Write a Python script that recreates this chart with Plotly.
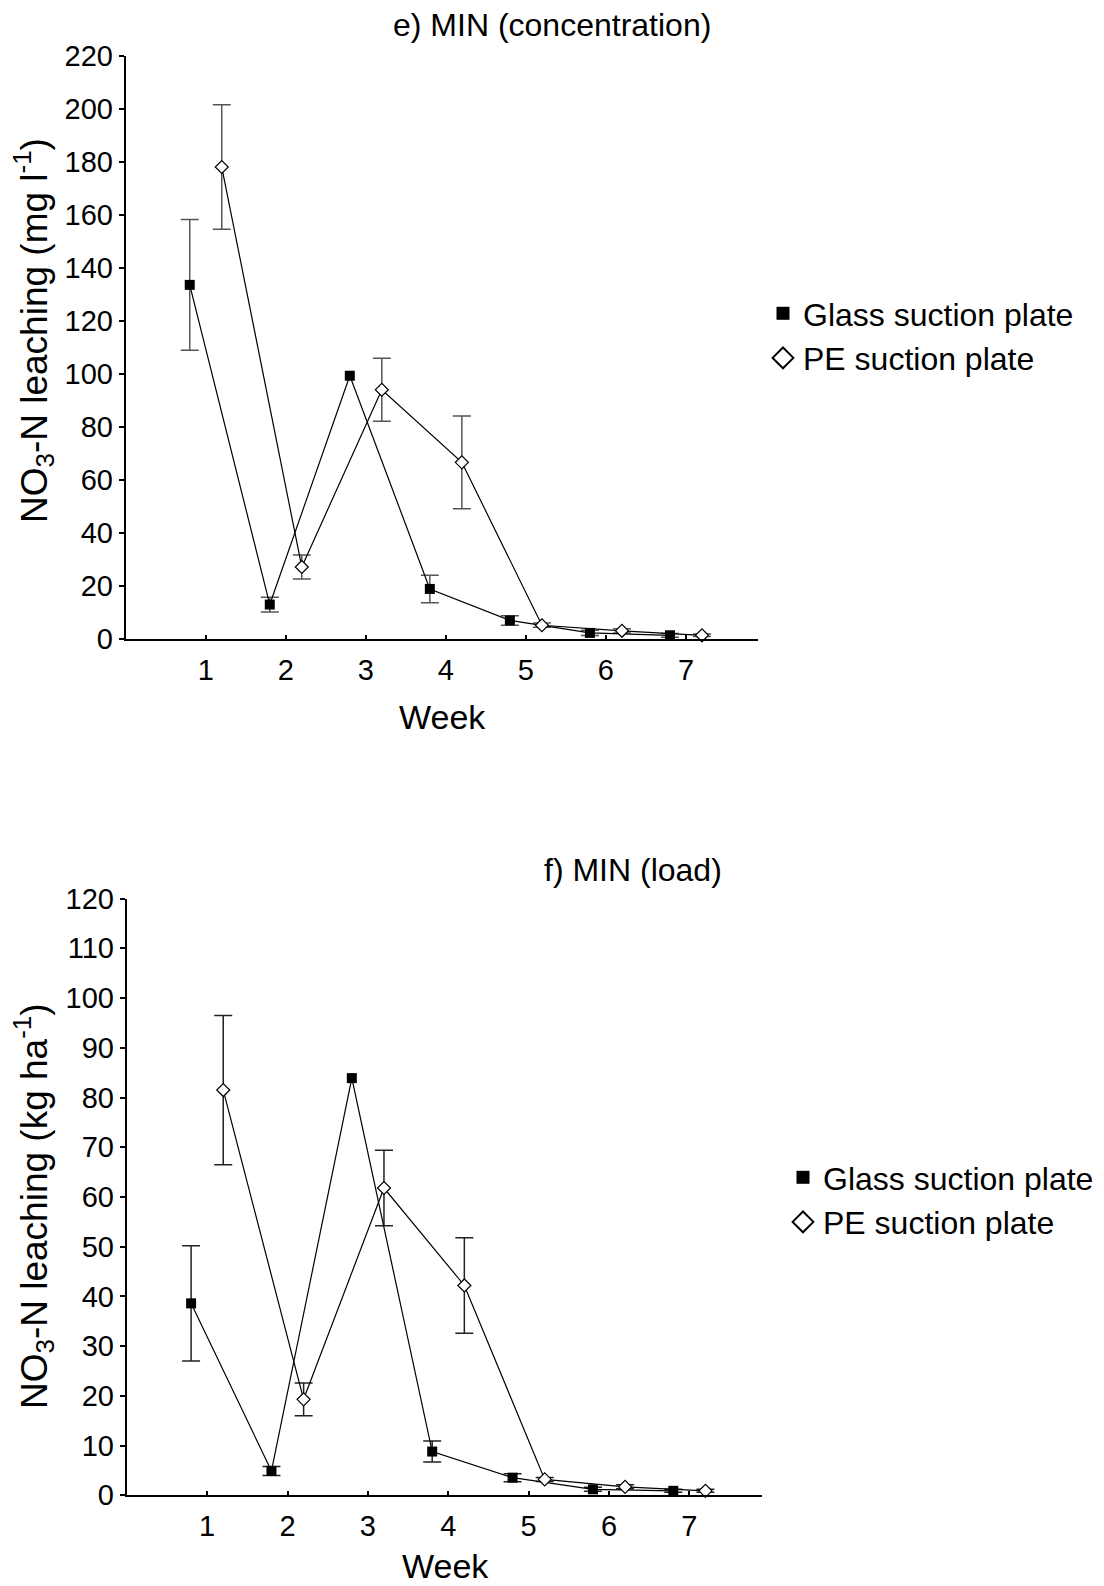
import plotly.graph_objects as go

# ---- data ----
weeks = [1, 2, 3, 4, 5, 6, 7]
week_ticks = ["1", "2", "3", "4", "5", "6", "7"]

glass_conc = [133.7, 13.0, 99.4, 18.9, 7.0, 2.3, 1.4]
glass_conc_err = [24.7, 2.8, None, 5.2, 1.8, 1.0, 0.7]
pe_conc = [178.2, 27.2, 94.1, 66.7, 5.2, 3.1, 1.4]
pe_conc_err = [23.5, 4.5, 11.9, 17.5, 0.8, 0.8, 0.5]

glass_load = [38.6, 4.9, 83.9, 8.8, 3.55, 1.2, 0.9]
glass_load_err = [11.6, 0.9, None, 2.1, 0.8, 0.4, 0.3]
pe_load = [81.5, 19.3, 61.8, 42.2, 3.2, 1.7, 0.9]
pe_load_err = [15.0, 3.3, 7.6, 9.6, 0.4, 0.4, 0.3]

series_names = ["Glass suction plate", "PE suction plate"]

# ---- figure ----
W, H = 1104, 1586
FONT = "Liberation Sans, Arial, Helvetica, sans-serif"
shift = 0.2
xg = [w - shift for w in weeks]
xp = [w + shift for w in weeks]


def px_x(p):
    return p / W


def px_y(p):
    return 1 - p / H


fig = go.Figure()


def add_err(xs, ys, es, xa, ya, errcol):
    keep = [i for i, e in enumerate(es) if e is not None]
    fig.add_trace(go.Scatter(
        x=[xs[i] for i in keep], y=[ys[i] for i in keep], xaxis=xa, yaxis=ya,
        mode="markers", marker=dict(size=1, opacity=0),
        error_y=dict(type="data", array=[es[i] for i in keep], visible=True,
                     color=errcol, thickness=1.5, width=9),
        cliponaxis=False, showlegend=False, hoverinfo="skip"))


def add_pair(gy, ge, py, pe, xa, ya, errcol, leg):
    add_err(xg, gy, ge, xa, ya, errcol)
    add_err(xp, py, pe, xa, ya, errcol)
    fig.add_trace(go.Scatter(
        x=xg, y=gy, xaxis=xa, yaxis=ya, mode="lines+markers",
        line=dict(color="black", width=1.2),
        marker=dict(symbol="square", size=10, color="black"),
        cliponaxis=False, showlegend=False, name=series_names[0]))
    fig.add_trace(go.Scatter(
        x=xp, y=py, xaxis=xa, yaxis=ya, mode="lines+markers",
        line=dict(color="black", width=1.2),
        marker=dict(symbol="diamond", size=10, color="white",
                    line=dict(color="black", width=1.2)),
        cliponaxis=False, showlegend=False, name=series_names[1]))
    # legend entries (markers only)
    fig.add_trace(go.Scatter(
        x=[None], y=[None], xaxis=xa, yaxis=ya, mode="markers",
        marker=dict(symbol="square", size=13, color="black"),
        name=series_names[0], legend=leg))
    fig.add_trace(go.Scatter(
        x=[None], y=[None], xaxis=xa, yaxis=ya, mode="markers",
        marker=dict(symbol="diamond-open", size=16, color="black",
                    line=dict(width=2)),
        name=series_names[1], legend=leg))


add_pair(glass_conc, glass_conc_err, pe_conc, pe_conc_err, "x", "y", "#555555", "legend")
add_pair(glass_load, glass_load_err, pe_load, pe_load_err, "x2", "y2", "#222222", "legend2")

xcommon = dict(range=[0, 7.9], tickmode="array", tickvals=weeks, ticktext=week_ticks,
               ticks="inside", ticklen=4, tickwidth=1.5, tickcolor="black",
               showline=True, linewidth=2, linecolor="black", showgrid=False,
               zeroline=False, tickfont=dict(size=29, color="black", family=FONT),
               ticklabelstandoff=4, automargin=False, fixedrange=True)
ycommon = dict(ticks="outside", ticklen=5, tickwidth=1.5, tickcolor="black",
               showline=True, linewidth=2, linecolor="black", showgrid=False,
               zeroline=False, tickfont=dict(size=29, color="black", family=FONT),
               automargin=False, fixedrange=True)

LEGFONT = dict(size=32, family=FONT, color="black")

fig.update_layout(
    width=W, height=H,
    margin=dict(l=0, r=0, t=0, b=0),
    paper_bgcolor="white", plot_bgcolor="white",
    font=dict(family=FONT, color="black"),
    xaxis=dict(domain=[px_x(125.7), px_x(758)], anchor="y", **xcommon),
    yaxis=dict(domain=[px_y(639), px_y(56.3)], anchor="x", range=[0, 220],
               tickmode="linear", tick0=0, dtick=20, **ycommon),
    xaxis2=dict(domain=[px_x(126.8), px_x(761.7)], anchor="y2", **xcommon),
    yaxis2=dict(domain=[px_y(1495.3), px_y(898.6)], anchor="x2", range=[0, 120],
                tickmode="linear", tick0=0, dtick=10, **ycommon),
    legend=dict(x=px_x(763), y=px_y(286), xanchor="left", yanchor="top",
                font=LEGFONT, bgcolor="rgba(0,0,0,0)", tracegroupgap=0, itemwidth=30),
    legend2=dict(x=px_x(783), y=px_y(1150), xanchor="left", yanchor="top",
                 font=LEGFONT, bgcolor="rgba(0,0,0,0)", tracegroupgap=0, itemwidth=30),
    annotations=[
        dict(text="e) MIN (concentration)", x=px_x(552), y=px_y(25), xref="paper", yref="paper",
             showarrow=False, font=dict(size=32, family=FONT, color="black"),
             xanchor="center", yanchor="middle"),
        dict(text="f) MIN (load)", x=px_x(633), y=px_y(870), xref="paper", yref="paper",
             showarrow=False, font=dict(size=32, family=FONT, color="black"),
             xanchor="center", yanchor="middle"),
        dict(text="Week", x=px_x(442), y=px_y(717), xref="paper", yref="paper",
             showarrow=False, font=dict(size=34, family=FONT, color="black"),
             xanchor="center", yanchor="middle"),
        dict(text="Week", x=px_x(445), y=px_y(1566), xref="paper", yref="paper",
             showarrow=False, font=dict(size=34, family=FONT, color="black"),
             xanchor="center", yanchor="middle"),
        dict(text="NO<sub>3</sub>-N leaching (mg l<sup>-1</sup>)", x=px_x(33), y=px_y(331),
             xref="paper", yref="paper", textangle=-90, showarrow=False,
             font=dict(size=37, family=FONT, color="black"),
             xanchor="center", yanchor="middle"),
        dict(text="NO<sub>3</sub>-N leaching (kg ha<sup>-1</sup>)", x=px_x(33), y=px_y(1206),
             xref="paper", yref="paper", textangle=-90, showarrow=False,
             font=dict(size=37, family=FONT, color="black"),
             xanchor="center", yanchor="middle"),
    ],
)

fig.write_html("out.html")
